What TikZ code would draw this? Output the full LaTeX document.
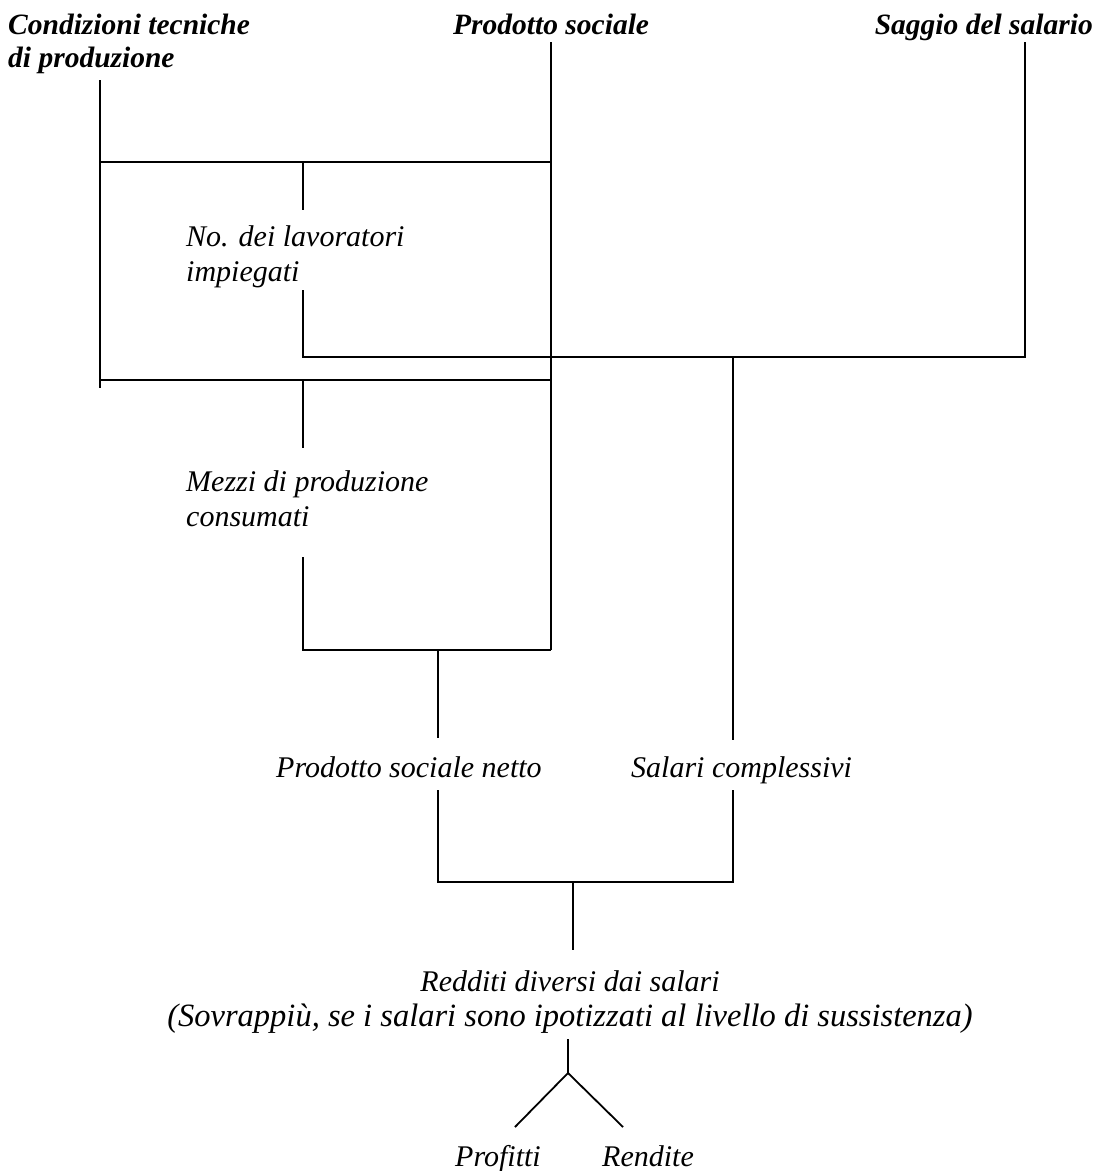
\documentclass[tikz,border=0pt]{standalone}
\usepackage{fontspec}
\setmainfont{Liberation Serif}
\begin{document}
\begin{tikzpicture}[x=1pt,y=-1pt,
  lbl/.style={font=\fontsize{30}{34.5}\selectfont\itshape, inner sep=0pt, align=left},
  head/.style={font=\fontsize{29.5}{33}\selectfont\bfseries\itshape, inner sep=0pt, align=left},
  ln/.style={line width=1.8pt, line join=miter}]
\useasboundingbox (0,0) rectangle (1100,1171);
% labels (base anchor = baseline of the last line)
\node[head, anchor=base west] (cond) at (8,67) {Condizioni tecniche\\di produzione};
\node[head, anchor=base west] (prod) at (453,34) {Prodotto sociale};
\node[head, anchor=base east] (sagg) at (1093,34) {Saggio del salario};
\node[lbl, anchor=base west] (lav) at (186,281) {No. dei lavoratori\\impiegati};
\node[lbl, anchor=base west] (mezzi) at (186,526) {Mezzi di produzione\\consumati};
\node[lbl, anchor=base west] (psn) at (276,777) {Prodotto sociale netto};
\node[lbl, anchor=base west] (sal) at (631,777) {Salari complessivi};
\node[lbl, align=center, anchor=base] (red) at (570,1026) {Redditi diversi dai salari\\{\fontsize{32.5}{34.5}\selectfont (Sovrappiù, se i salari sono ipotizzati al livello di sussistenza)}};
\node[lbl, anchor=base west] (prof) at (455,1166) {Profitti};
\node[lbl, anchor=base west] (rend) at (602,1166) {Rendite};
% junction coordinates
\coordinate (a1) at (100,80);  \coordinate (a2) at (100,162);
\coordinate (a3) at (100,380); \coordinate (a4) at (100,388);
\coordinate (p0) at (551,42);  \coordinate (p1) at (551,162);
\coordinate (p3) at (551,380); \coordinate (p4) at (551,650);
\coordinate (s0) at (1025,42); \coordinate (s1) at (1025,357);
\coordinate (l1) at (303,162); \coordinate (l2) at (303,210);
\coordinate (l3) at (303,290); \coordinate (l4) at (303,357);
\coordinate (m1) at (303,380); \coordinate (m2) at (303,448);
\coordinate (m3) at (303,557); \coordinate (m4) at (303,650);
\coordinate (n1) at (438,650); \coordinate (n2) at (438,738);
\coordinate (n3) at (438,790); \coordinate (n4) at (438,882);
\coordinate (w1) at (733,357); \coordinate (w2) at (733,740);
\coordinate (w3) at (733,790); \coordinate (w4) at (733,882);
\coordinate (r1) at (573,882); \coordinate (r2) at (573,950);
\coordinate (t1) at (568,1039); \coordinate (t2) at (568,1073);
\coordinate (t3) at (515,1127); \coordinate (t4) at (623,1127);
% connectors
\draw[ln] (a1) -- (a4);
\draw[ln] (a2) -- (p1);
\draw[ln] (p0) -- (p4);
\draw[ln] (l1) -- (l2);
\draw[ln] (l3) -- (l4) -- (s1) -- (s0);
\draw[ln] (a3) -- (p3);
\draw[ln] (m1) -- (m2);
\draw[ln] (m3) -- (m4) -- (p4);
\draw[ln] (n1) -- (n2);
\draw[ln] (w1) -- (w2);
\draw[ln] (n3) -- (n4) -- (w4) -- (w3);
\draw[ln] (r1) -- (r2);
\draw[ln] (t1) -- (t2);
\draw[ln] (t3) -- (t2) -- (t4);
\end{tikzpicture}
\end{document}
